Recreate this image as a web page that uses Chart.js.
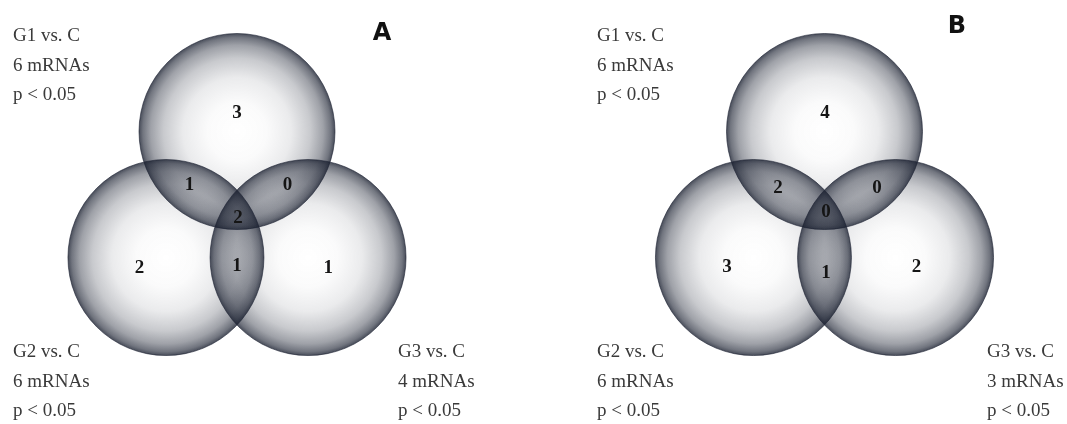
<!DOCTYPE html>
<html>
<head>
<meta charset="utf-8">
<script src="https://cdn.jsdelivr.net/npm/chart.js@4"></script>
<style>
  body { margin: 0; background: #fff; }
  #wrap { position: relative; width: 1067px; height: 424px; }
  canvas { position: absolute; top: 0; }
</style>
</head>
<body>
<div id="wrap">
  <canvas id="panelA" width="533" height="424" style="left:0"></canvas>
  <canvas id="panelB" width="534" height="424" style="left:533px"></canvas>
</div>
<script>
const groups = ["G1 vs. C", "G2 vs. C", "G3 vs. C"];
const totalsA = [6, 6, 4];
const totalsB = [6, 6, 3];

// regions: G1 only, G2 only, G3 only, G1+G2, G1+G3, G2+G3, all three
const countsA = [3, 2, 1, 1, 0, 1, 2];
const countsB = [4, 3, 2, 2, 0, 1, 0];

// circle centres, in circle radii from the middle of the diagram
const circleX = [0, -0.725, 0.725];
const circleY = [0.857, -0.429, -0.429];

// where each count is written (same units)
const regionXA = [0, -0.995, 0.93, -0.485, 0.515, 0, 0.01];
const regionYA = [1.045, -0.535, -0.535, 0.31, 0.31, -0.52, -0.025];
const regionXB = [0.005, -0.995, 0.94, -0.475, 0.535, 0.015, 0.015];
const regionYB = [1.045, -0.525, -0.525, 0.28, 0.28, -0.585, 0.035];

const PX_PER_UNIT = 98;
const INK = "rgba(26,32,48,";

// one circle radius (1 unit) in pixels, through the x scale
function circleRadius(c) {
  if (c.type !== "data") return 0;
  const sx = c.chart.scales.x;
  if (!sx) return 0;
  const r = sx.getPixelForValue(c.raw.x + 1) - sx.getPixelForValue(c.raw.x);
  return isFinite(r) ? r : 0;
}

function circleFill(c) {
  if (c.type !== "data") return "transparent";
  const ch = c.chart;
  if (!ch.scales.x || !ch.scales.y) return "transparent";
  const x = ch.scales.x.getPixelForValue(c.raw.x);
  const y = ch.scales.y.getPixelForValue(c.raw.y);
  const r = circleRadius(c);
  if (!isFinite(x) || !isFinite(y) || !(r > 0)) return "transparent";
  const g = ch.ctx.createRadialGradient(x, y, 0, x, y, r);
  g.addColorStop(0, INK + "0)");
  g.addColorStop(0.3, INK + "0.02)");
  g.addColorStop(0.55, INK + "0.09)");
  g.addColorStop(0.75, INK + "0.24)");
  g.addColorStop(0.88, INK + "0.42)");
  g.addColorStop(0.96, INK + "0.62)");
  g.addColorStop(1, INK + "0.8)");
  return g;
}

const vennText = {
  id: "vennText",
  afterDatasetsDraw(chart, args, opts) {
    const ctx = chart.ctx;
    ctx.save();
    // counts in each region
    const meta = chart.getDatasetMeta(1);
    ctx.font = "bold 19px 'Liberation Serif', serif";
    ctx.fillStyle = "#151515";
    ctx.textAlign = "center";
    ctx.textBaseline = "middle";
    meta.data.forEach((pt, i) => {
      ctx.fillText(String(opts.counts[i]), pt.x, pt.y);
    });
    // group captions
    ctx.font = "19px 'Liberation Serif', serif";
    ctx.fillStyle = "#3a3a3a";
    ctx.textAlign = "left";
    ctx.textBaseline = "alphabetic";
    opts.captions.forEach((cap, i) => {
      const lines = [groups[i], opts.totals[i] + " mRNAs", "p < 0.05"];
      lines.forEach((t, k) => ctx.fillText(t, cap.x, cap.y + k * 29.5));
    });
    // panel letter
    ctx.font = "bold 24px 'DejaVu Sans', sans-serif";
    ctx.fillStyle = "#111";
    ctx.textAlign = "center";
    ctx.fillText(opts.letter, opts.letterX, opts.letterY);
    ctx.restore();
  }
};

function makeVenn(id, originX, counts, regionX, regionY, totals, captions, letter, letterX, letterY) {
  const canvas = document.getElementById(id);
  const originY = 215.5;
  new Chart(canvas.getContext("2d"), {
    type: "scatter",
    data: {
      datasets: [
        {
          label: "groups",
          data: circleX.map((x, i) => ({ x: x, y: circleY[i] })),
          pointBackgroundColor: circleFill,
          pointBorderColor: "rgba(28,34,50,0.6)",
          pointBorderWidth: 1,
          pointRadius: circleRadius,
          showLine: false,
          clip: false,
        },
        {
          label: "regions",
          data: regionX.map((x, i) => ({ x: x, y: regionY[i] })),
          pointRadius: 0,
          showLine: false,
        },
      ],
    },
    options: {
      responsive: false,
      animation: false,
      events: [],
      layout: { padding: 0, autoPadding: false },
      plugins: {
        legend: { display: false },
        tooltip: { enabled: false },
        vennText: { counts, totals, captions, letter, letterX, letterY },
      },
      scales: {
        x: {
          type: "linear",
          display: false,
          min: -originX / PX_PER_UNIT,
          max: (canvas.width - originX) / PX_PER_UNIT,
        },
        y: {
          type: "linear",
          display: false,
          min: -(canvas.height - originY) / PX_PER_UNIT,
          max: originY / PX_PER_UNIT,
        },
      },
    },
    plugins: [vennText],
  });
}

makeVenn("panelA", 237, countsA, regionXA, regionYA, totalsA,
  [{ x: 13, y: 41 }, { x: 13, y: 357 }, { x: 398, y: 357 }], "A", 382, 40);
makeVenn("panelB", 291.5, countsB, regionXB, regionYB, totalsB,
  [{ x: 64, y: 41 }, { x: 64, y: 357 }, { x: 454, y: 357 }], "B", 424, 33);
</script>
</body>
</html>
